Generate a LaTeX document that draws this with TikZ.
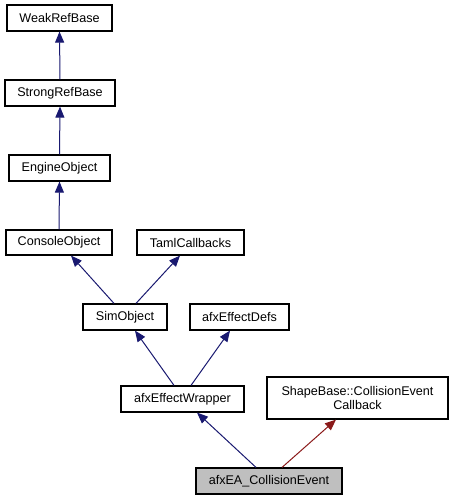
\documentclass[tikz,border=0pt]{standalone}
\usepackage{fontspec}
\setmainfont{Liberation Sans}
\usetikzlibrary{arrows.meta}
\definecolor{edgeblue}{HTML}{191970}
\definecolor{edgered}{HTML}{8B1A1A}
\definecolor{nodegray}{HTML}{BFBFBF}
\begin{document}
\begin{tikzpicture}[x=1pt,y=-1pt,
  box/.style={draw=black,line width=1.2pt,fill=white,inner sep=0pt,align=center,font=\fontsize{12.6}{14.5}\selectfont},
  edge/.style={draw=edgeblue,line width=1pt,-{Triangle[length=11pt,width=9pt]}},
  rededge/.style={draw=edgered,line width=1pt,-{Triangle[length=11pt,width=9pt]}}]
\useasboundingbox (0,0) rectangle (452,500);
\node[box,minimum width=105pt,minimum height=26pt] (weak) at (59.5,18) {WeakRefBase};
\node[box,minimum width=110pt,minimum height=26pt] (strong) at (60,93) {StrongRefBase};
\node[box,minimum width=101pt,minimum height=26pt] (engine) at (59.5,168) {EngineObject};
\node[box,minimum width=106pt,minimum height=25pt] (console) at (59,242.5) {ConsoleObject};
\node[box,minimum width=107pt,minimum height=25pt] (taml) at (190.5,242.5) {TamlCallbacks};
\node[box,minimum width=84pt,minimum height=26pt] (sim) at (125,317) {SimObject};
\node[box,minimum width=99pt,minimum height=26pt] (defs) at (239.5,317) {afxEffectDefs};
\node[box,minimum width=123pt,minimum height=26pt] (wrap) at (182.5,399) {afxEffectWrapper};
\node[box,minimum width=181pt,minimum height=42pt] (shape) at (357.5,398) {ShapeBase::CollisionEvent\\Callback};
\node[box,fill=nodegray,minimum width=146pt,minimum height=26pt] (coll) at (269,481) {afxEA\_CollisionEvent};
\draw[edge] (strong.north) -- (weak.south);
\draw[edge] (engine.north) -- (strong.south);
\draw[edge] (console.north) -- (engine.south);
\draw[edge] ([xshift=-11pt]sim.north) -- ([xshift=12pt]console.south);
\draw[edge] ([xshift=11pt]sim.north) -- ([xshift=-10.5pt]taml.south);
\draw[edge] ([xshift=-8.5pt]wrap.north) -- ([xshift=10pt]sim.south);
\draw[edge] ([xshift=8.5pt]wrap.north) -- ([xshift=-9.5pt]defs.south);
\draw[edge] ([xshift=-13pt]coll.north) -- ([xshift=14.5pt]wrap.south);
\draw[rededge] ([xshift=13pt]coll.north) -- ([xshift=-21.5pt]shape.south);
\end{tikzpicture}
\end{document}
